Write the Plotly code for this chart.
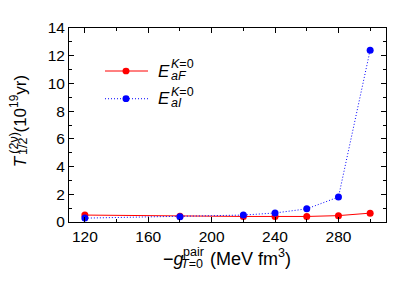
import plotly.graph_objects as go

g_pair = [120, 180, 220, 240, 260, 280, 300]
t_aF = [0.50, 0.42, 0.40, 0.40, 0.40, 0.46, 0.64]
t_aI = [0.28, 0.38, 0.50, 0.65, 0.95, 1.80, 12.40]

FONT = "Liberation Sans, Arial, sans-serif"
# page body has an 8px margin, so the figure is offset in the window
OFF = 8
# plot area in window pixels
L, R, T, B = 69, 386, 19, 222


def px(x):
    return (x - L) / (R - L)


def py(y):
    return (B - y) / (B - T)


fig = go.Figure()
fig.add_trace(go.Scatter(
    x=g_pair, y=t_aF, mode='lines+markers', name='aF',
    line=dict(color='red', width=1),
    marker=dict(color='red', size=7)
))
fig.add_trace(go.Scatter(
    x=g_pair, y=t_aI, mode='lines+markers', name='aI',
    line=dict(color='blue', width=1, dash='1px,2px'),
    marker=dict(color='blue', size=7)
))

axis_common = dict(
    showline=True, linecolor='black', linewidth=1, mirror='ticks',
    ticks='inside', ticklen=5, tickcolor='black',
    showgrid=False, zeroline=False,
    tickfont=dict(family=FONT, size=15.5, color='black'),
)

fig.update_xaxes(
    range=[110, 310], tickvals=[120, 160, 200, 240, 280],
    minor=dict(ticks='inside', ticklen=3, dtick=20, tick0=120, tickcolor='black'),
    **axis_common
)
fig.update_yaxes(
    range=[0, 14], dtick=2,
    minor=dict(ticks='inside', ticklen=3, dtick=1, tickcolor='black'),
    **axis_common
)

big = dict(family=FONT, size=17, color='black')
xbig = dict(family=FONT, size=18, color='black')
small = dict(family=FONT, size=12.5, color='black')
ann = []
# x axis title with stacked sub/superscript
ann.append(dict(text='−<i>g</i>', x=px(161), y=py(261), font=xbig))
ann.append(dict(text='pair', x=px(181), y=py(253), font=small))
ann.append(dict(text='<i>T</i>=0', x=px(179), y=py(265.5), font=small))
ann.append(dict(text='(MeV fm<sup>3</sup>)', x=px(208), y=py(259.5), font=xbig))
# y axis title, rotated, centre anchored (kept clear of the left page edge)
rot = dict(textangle=-90, xanchor='center', yanchor='middle')
ann.append(dict(text='<i>T</i>', x=px(20), y=py(158.5), font=big, **rot))
ann.append(dict(text='(2ν)', x=px(14), y=py(139), font=small, **rot))
ann.append(dict(text='1/2', x=px(23), y=py(142.5), font=small, **rot))
ann.append(dict(text='(10<sup>19</sup>yr)', x=px(19), y=py(98), font=big, **rot))

# legend drawn by hand so the sub/superscripts can be stacked
legend_rows = [('aF', 'red', 'solid', 64), ('aI', 'blue', '1px,2px', 93)]
shapes = []
for label, color, dash, yy in legend_rows:
    shapes.append(dict(type='line', xref='paper', yref='paper',
                       x0=px(105), x1=px(148), y0=py(yy), y1=py(yy),
                       line=dict(color=color, width=1, dash=dash)))
    shapes.append(dict(type='circle', xref='paper', yref='paper',
                       x0=px(122.5), x1=px(129.5), y0=py(yy - 3.5), y1=py(yy + 3.5),
                       fillcolor=color, line=dict(color=color, width=0)))
    ann.append(dict(text='<i>E</i>', x=px(156), y=py(yy), font=big))
    ann.append(dict(text='<i>K</i>=0', x=px(169), y=py(yy - 7), font=small))
    ann.append(dict(text='<i>%s</i>' % label, x=px(169), y=py(yy + 5), font=small))

for a in ann:
    a.setdefault('xanchor', 'left')
    a.setdefault('yanchor', 'middle')
    a.update(xref='paper', yref='paper', showarrow=False)

fig.update_layout(
    width=415, height=291,
    margin=dict(l=L - OFF, r=415 - (R - OFF), t=T - OFF, b=291 - (B - OFF)),
    plot_bgcolor='white', paper_bgcolor='white',
    showlegend=False,
    annotations=ann,
    shapes=shapes,
)

fig.write_html("out.html")
